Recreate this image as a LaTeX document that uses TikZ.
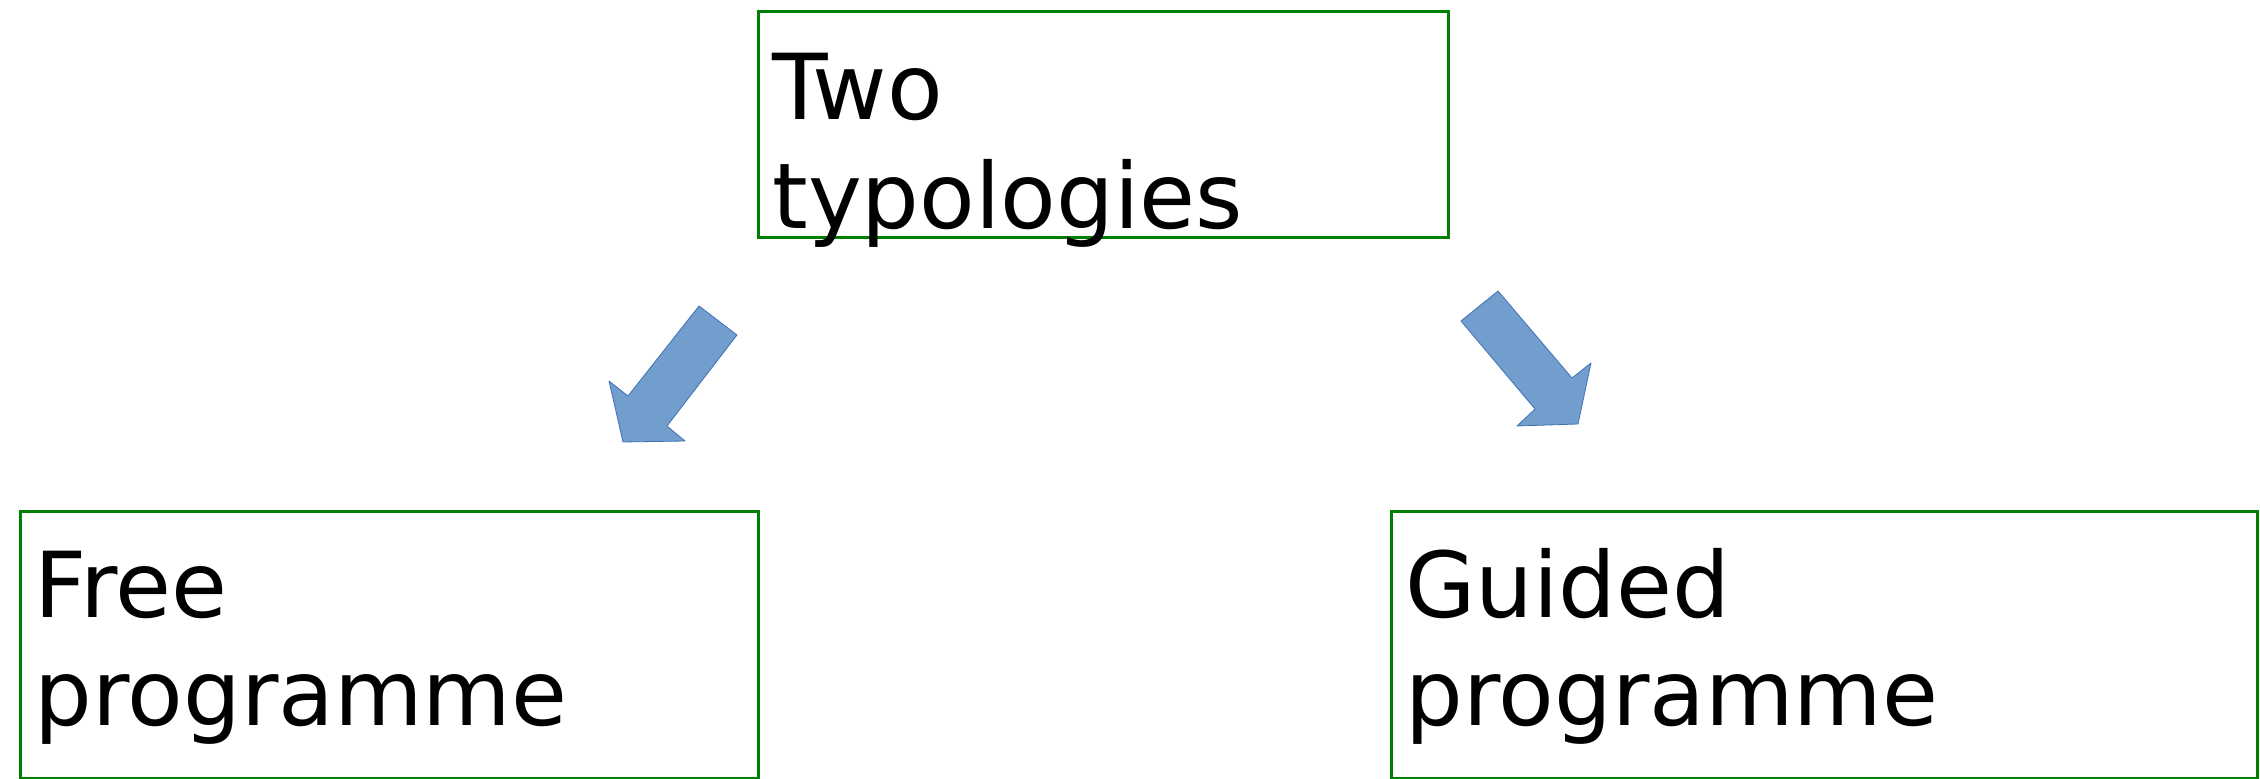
\documentclass[tikz,border=0pt]{standalone}
\usepackage{fontspec}
\setmainfont{DejaVu Sans}
\usepackage{xcolor}
\usetikzlibrary{positioning}
\definecolor{boxgreen}{RGB}{0,128,0}
\definecolor{arrowblue}{RGB}{114,158,206}
\definecolor{arrowedge}{RGB}{65,113,180}

\begin{document}
\begin{tikzpicture}[x=0.5pt,y=-0.5pt,
        box/.style={draw=boxgreen,line width=1.5pt,inner sep=0pt,anchor=north west},
        lbl/.style={anchor=base west,align=left,inner sep=0pt,font=\fontsize{45.5}{54.5}\selectfont},
        blk/.style={fill=arrowblue,draw=arrowedge,line width=0.4pt,line join=round}]
    \useasboundingbox (0,0) rectangle (2260,779);

    \node[box,minimum width=345pt,minimum height=113pt]   (top)   at (757,10)  {};
    \node[box,minimum width=369pt,minimum height=133.5pt] (free)  at (19,510)  {};
    \node[box,minimum width=433pt,minimum height=133.5pt] (guided) at (1390,510) {};

    % base anchor sits on the second line
    \node[lbl] (toptext)    at ([shift={(15,219)}]top.north west)    {Two\\typologies};
    \node[lbl] (freetext)   at ([shift={(15,216)}]free.north west)   {Free\\programme};
    \node[lbl] (guidedtext) at ([shift={(15,216)}]guided.north west) {Guided\\programme};

    % block arrows
    \draw[blk] (699,306) -- (737,335) -- (667,426) -- (685,441) -- (623,442)
               -- (609,381) -- (628,396) -- cycle;
    \draw[blk] (1461,321) -- (1498,291) -- (1572,378) -- (1591,363) -- (1578,424)
               -- (1517,426) -- (1535,409) -- cycle;
\end{tikzpicture}
\end{document}
